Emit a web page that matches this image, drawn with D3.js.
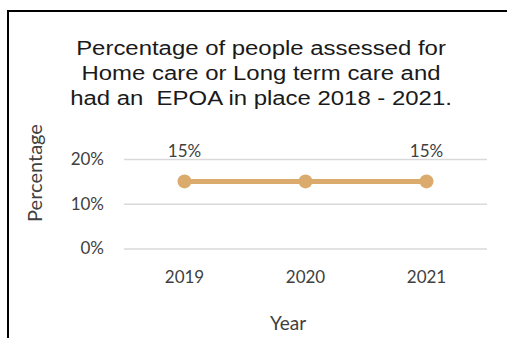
<!DOCTYPE html>
<html>
<head>
<meta charset="utf-8">
<script src="https://cdn.jsdelivr.net/npm/d3@7"></script>
<style>
  html, body { margin: 0; padding: 0; background: #fff; }
  svg { display: block; }
</style>
</head>
<body>
<svg id="chart" width="507" height="338"></svg>
<script>
// Chart data
const years = ["2019", "2020", "2021"];
const epoaShare = [0.15, 0.15, 0.15];
const labelledYears = ["2019", "2021"];
const yTicks = [0, 0.1, 0.2];
const titleLines = [
  "Percentage of people assessed for",
  "Home care or Long term care and",
  "had an  EPOA in place 2018 - 2021."
];
const xTitle = "Year";
const yTitle = "Percentage";

const svg = d3.select("#chart");
const W = 507, H = 338;
const plot = { left: 124, right: 487, top: 159, bottom: 248.5 };

const lineColor = "#DAAB6C";
const textColor = "#404040";
const uiFont = "Lato, 'Open Sans', sans-serif";

// Frame (top and left edges)
svg.append("path")
  .attr("d", `M8,${H} V11 H${W}`)
  .attr("fill", "none")
  .attr("stroke", "#000")
  .attr("stroke-width", 2);

// Title, slightly widened
const titleCx = 261;
const title = svg.append("text")
  .attr("transform", `translate(${titleCx},0) scale(1.14,1)`)
  .attr("text-anchor", "middle")
  .attr("font-family", "'Liberation Sans', Arial, sans-serif")
  .attr("font-size", 21)
  .attr("fill", "#1a1a1a");
titleLines.forEach((t, i) => {
  title.append("tspan")
    .attr("x", 0)
    .attr("y", 55 + i * 25)
    .attr("xml:space", "preserve")
    .text(t);
});

const x = d3.scaleBand().domain(years).range([plot.left, plot.right]);
const y = d3.scaleLinear().domain([0, 0.2]).range([plot.bottom, plot.top]);

// Gridlines + y tick labels
const yAxis = d3.axisLeft(y)
  .tickValues(yTicks)
  .tickFormat(d3.format(".0%"))
  .tickSize(-(plot.right - plot.left))
  .tickPadding(20);
const gy = svg.append("g")
  .attr("transform", `translate(${plot.left},0)`)
  .call(yAxis);
gy.select(".domain").remove();
gy.selectAll(".tick line").attr("stroke", "#d9d9d9").attr("stroke-width", 1.5);
gy.selectAll(".tick text")
  .attr("font-family", uiFont)
  .attr("font-size", 17)
  .attr("fill", textColor);

// X tick labels
const xAxis = d3.axisBottom(x).tickSize(0).tickPadding(22);
const gx = svg.append("g")
  .attr("transform", `translate(0,${plot.bottom})`)
  .call(xAxis);
gx.select(".domain").remove();
gx.selectAll(".tick text")
  .attr("font-family", uiFont)
  .attr("font-size", 17)
  .attr("fill", textColor);

// Axis titles
svg.append("text")
  .attr("x", 288)
  .attr("y", 330)
  .attr("text-anchor", "middle")
  .attr("font-family", uiFont)
  .attr("font-size", 19)
  .attr("fill", textColor)
  .text(xTitle);
svg.append("text")
  .attr("transform", "translate(42,173) rotate(-90)")
  .attr("text-anchor", "middle")
  .attr("font-family", uiFont)
  .attr("font-size", 20)
  .attr("fill", textColor)
  .text(yTitle);

// Series line and markers
const pts = years.map((yr, i) => ({ year: yr, value: epoaShare[i] }));
const cx = d => x(d.year) + x.bandwidth() / 2;
svg.append("path")
  .datum(pts)
  .attr("fill", "none")
  .attr("stroke", lineColor)
  .attr("stroke-width", 5)
  .attr("d", d3.line().x(cx).y(d => y(d.value)));
svg.selectAll("circle.pt")
  .data(pts)
  .join("circle")
  .attr("class", "pt")
  .attr("cx", cx)
  .attr("cy", d => y(d.value))
  .attr("r", 7)
  .attr("fill", lineColor);

// Data labels
svg.selectAll("text.lbl")
  .data(pts.filter(d => labelledYears.includes(d.year)))
  .join("text")
  .attr("class", "lbl")
  .attr("x", cx)
  .attr("y", d => y(d.value) - 24.5)
  .attr("text-anchor", "middle")
  .attr("font-family", uiFont)
  .attr("font-size", 17)
  .attr("fill", textColor)
  .text(d => d3.format(".0%")(d.value));
</script>
</body>
</html>
